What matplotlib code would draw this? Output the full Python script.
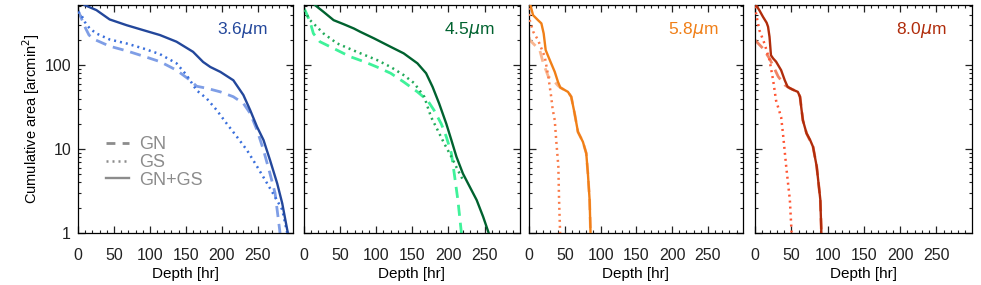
"""Cumulative area vs depth, four IRAC bands (GN, GS, GN+GS)."""
import matplotlib
matplotlib.use("Agg")
import matplotlib.pyplot as plt
from matplotlib.ticker import MultipleLocator, LogLocator, NullFormatter, FixedLocator

plt.rcParams.update({"font.family": ["Liberation Sans", "DejaVu Sans"], "font.size": 10})

# ----- data: depth [hr], cumulative area [arcmin^2] -----
bands = ["3.6", "4.5", "5.8", "8.0"]

# 3.6 um
gn36_d = [0, 4.7, 10.7, 15.3, 23, 44, 67.5, 90.7, 114, 137, 156, 165, 179, 198, 216, 230,
          239.5, 249, 258, 267, 274, 281]
gn36_a = [452, 360, 273, 228, 202, 168, 148, 128, 110, 87, 66, 56, 53, 48, 42, 35,
          26.6, 16.8, 9.7, 5.1, 3.0, 1.0]
gs36_d = [0, 4.7, 9.3, 16.3, 25.6, 44, 67.5, 90.7, 114, 137, 151, 165, 179, 193, 207, 221,
          235, 249, 263, 274, 284, 291]
gs36_a = [431, 394, 328, 273, 238, 202, 181, 158, 135, 105, 76, 50, 40, 29, 20, 14,
          9.7, 6.2, 3.9, 2.7, 1.9, 1.0]
all36_d = [9.3, 25.6, 44, 67.5, 90.7, 114, 137, 160, 174, 184, 198, 216, 230, 239.5, 249,
           258, 267, 277, 284, 292]
all36_a = [518, 452, 350, 299, 261, 228, 190, 144, 109, 95, 83, 66, 44, 29, 18.4,
           12.8, 7.4, 3.9, 2.26, 0.98]

# 4.5 um
gn45_d = [0, 1.4, 8.4, 13, 22, 41, 64, 83, 101, 120, 138, 157, 171, 180, 190, 197, 204,
          208, 213, 218]
gn45_a = [470, 452, 328, 238, 190, 158, 126, 110, 95, 80, 63, 48, 38, 29, 20, 14, 8.9,
          5.1, 2.47, 0.98]
gs45_d = [0, 8.4, 17.7, 27, 46, 73, 101, 120, 138, 152.5, 166.5, 171, 176, 185, 194, 204,
          213, 220]
gs45_a = [452, 343, 286, 238, 181, 144, 115, 95, 76, 61, 42, 32, 24, 16.8, 11.7, 8.1,
          5.6, 4.3]
all45_d = [15.3, 27, 41, 55, 69, 78, 97, 120, 138, 157, 169, 178, 187, 197, 204, 211, 220,
           227, 239, 248, 256]
all45_a = [518, 431, 343, 307, 273, 249, 208, 165, 138, 105, 80, 55, 35, 20, 12.8, 8.1,
           5.1, 3.9, 2.47, 1.56, 0.98]

# 5.8 um
gn58_d = [0, 1, 15, 20, 27, 36, 40.5, 43.8, 54.4, 59, 63.7, 68.4, 75.3, 80, 82.3, 84.7, 86]
gn58_a = [215, 199, 151, 105, 73, 63, 57, 54, 48, 42, 26.6, 16, 12.2, 8.9, 5.1, 2.47, 0.98]
gs58_d = [0, 1, 6, 12.6, 22, 27, 31, 33, 36, 38, 41, 42, 43.5]
gs58_a = [480, 343, 249, 199, 126, 73, 42, 30, 22, 12.8, 6.2, 2.5, 0.98]
all58_d = [2, 5.6, 12.6, 17.3, 20.5, 23.3, 29, 36, 40.5, 43.8, 54.4, 59, 63.7, 68.4, 75.3,
           80, 82.3, 84.7, 86]
all58_a = [518, 394, 343, 314, 238, 151, 115, 83, 63, 54, 48, 42, 26.6, 16, 12.2,
           8.9, 5.1, 2.47, 0.98]

# 8.0 um
gn80_d = [0, 11, 20, 32, 41, 48, 59, 62, 66, 71, 80, 85, 90, 91.5]
gn80_a = [199, 158, 120, 73, 58, 53, 48, 42, 22, 15.4, 10.6, 6.2, 2.5, 0.98]
gs80_d = [0, 1.4, 6, 13, 20, 25, 29, 36, 38.5, 43, 48, 50.5]
gs80_a = [500, 412, 261, 181, 115, 66, 38, 24, 15.4, 6.2, 2.5, 0.98]
all80_d = [0, 1.4, 6, 11, 16, 18, 20, 22, 25, 29, 36, 41, 45, 52, 59, 62, 64, 66, 71, 76,
           80, 85, 90, 91.5]
all80_a = [560, 520, 450, 376, 320, 286, 217, 131, 120, 110, 87, 66, 55, 51, 48, 42, 30, 22,
           15.4, 12.8, 10.6, 6.2, 2.5, 0.98]

gn = [(gn36_d, gn36_a), (gn45_d, gn45_a), (gn58_d, gn58_a), (gn80_d, gn80_a)]
gs = [(gs36_d, gs36_a), (gs45_d, gs45_a), (gs58_d, gs58_a), (gs80_d, gs80_a)]
both = [(all36_d, all36_a), (all45_d, all45_a), (all58_d, all58_a), (all80_d, all80_a)]

# colours per band: (GN+GS, GN, GS)
COLS = [("#23479b", "#7f9ee6", "#3a6fdc"),
        ("#00622f", "#3ff29a", "#22aa5a"),
        ("#f07f17", "#f9b690", "#fa7a48"),
        ("#b02c0b", "#f08466", "#ff5533")]
GREY = "#8c8c8c"
DASH = (0, (4, 2.5))
DOT = (0, (0.8, 1.6))

fig = plt.figure(figsize=(9.81, 2.85), dpi=100)
lefts = [78, 304, 529, 755]
widths = [215, 216, 214, 217]

for i, band in enumerate(bands):
    ax = fig.add_axes([lefts[i] / 981, 52 / 285, widths[i] / 981, 228 / 285])
    c_all, c_gn, c_gs = COLS[i]
    ax.plot(*gn[i], color=c_gn, lw=2, ls=DASH, zorder=2)
    ax.plot(*gs[i], color=c_gs, lw=1.8, ls=DOT, zorder=3)
    ax.plot(*both[i], color=c_all, lw=1.7, zorder=4)

    ax.set_yscale("log")
    ax.set_xlim(0, 299)
    ax.set_ylim(1, 520)
    ax.xaxis.set_major_locator(FixedLocator([0, 50, 100, 150, 200, 250]))
    ax.xaxis.set_minor_locator(MultipleLocator(10))
    ax.yaxis.set_major_locator(LogLocator(base=10, numticks=5))
    ax.yaxis.set_minor_locator(LogLocator(base=10, subs=range(2, 10), numticks=10))
    ax.yaxis.set_minor_formatter(NullFormatter())
    ax.tick_params(which="both", direction="in", top=True, right=True, colors="#222222",
                   labelsize=11.5)
    ax.tick_params(which="major", length=5, width=0.9)
    ax.tick_params(which="minor", length=2.5, width=0.8)
    ax.tick_params(axis="x", which="major", pad=11)
    ax.tick_params(axis="y", which="major", pad=5)
    if i == 0:
        ax.set_yticks([1, 10, 100])
        ax.set_yticklabels(["1", "10", "100"])
        ax.set_ylabel("Cumulative area [arcmin$^2$]", fontsize=10.5)
        ax.yaxis.set_label_coords(-0.168, 0.5)
    else:
        ax.set_yticklabels([])
    for s in ax.spines.values():
        s.set_linewidth(0.9)
    ax.set_xlabel("Depth [hr]", fontsize=11)
    ax.xaxis.set_label_coords(0.5, -0.15)
    ax.text(0.884, 0.89, band + r"$\mu$m", transform=ax.transAxes, ha="right", va="center",
            color=c_all, fontsize=12.5)

    if i == 0:
        h1, = ax.plot([], [], color=GREY, lw=2, ls=(0, (3.2, 2.6)))
        h2, = ax.plot([], [], color=GREY, lw=1.8, ls=DOT)
        h3, = ax.plot([], [], color=GREY, lw=1.7)
        leg = ax.legend([h1, h2, h3], ["GN", "GS", "GN+GS"], loc="center left",
                        bbox_to_anchor=(0.13, 0.31), frameon=False, fontsize=13,
                        handlelength=1.3, handletextpad=0.55, labelspacing=0.05,
                        borderaxespad=0, borderpad=0)
        for t in leg.get_texts():
            t.set_color(GREY)

fig.savefig("out.png", dpi=100)
